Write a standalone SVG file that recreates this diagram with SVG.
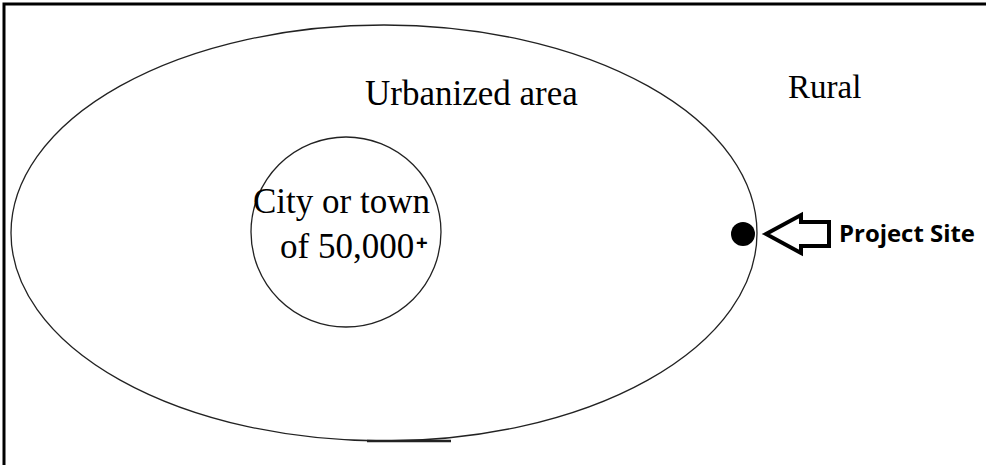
<svg xmlns="http://www.w3.org/2000/svg" width="986" height="465" viewBox="0 0 986 465">
<style>
.serif{font-family:"Liberation Serif","Times New Roman",serif;fill:#000}
.outline{fill:none;stroke:#222;stroke-width:1.3}
</style>
<rect width="986" height="465" fill="#fff"/>
<g id="frame">
<path d="M4,465 V4 H986" fill="none" stroke="#000" stroke-width="3"/>
</g>
<g id="urbanized">
<ellipse class="outline" cx="384" cy="233" rx="373" ry="208"/>
<line x1="367" y1="441" x2="451" y2="441" stroke="#222" stroke-width="2.5"/>
<line x1="452" y1="440.5" x2="458" y2="440.5" stroke="#fff" stroke-width="2.5"/>
<text class="serif" x="365" y="105" font-size="35">Urbanized area</text>
</g>
<g id="rural">
<text class="serif" x="788" y="98" font-size="33">Rural</text>
</g>
<g id="city">
<circle class="outline" cx="346" cy="232" r="95"/>
<text class="serif" x="253" y="213" font-size="35">City or town</text>
<text class="serif" x="280" y="258" font-size="35">of 50,000</text>
<text x="416" y="250" font-size="20" font-weight="bold" font-family="Liberation Sans,Arial,sans-serif">+</text>
</g>
<g id="project-site">
<circle cx="743" cy="234" r="12" fill="#000"/>
<text x="839" y="242" font-size="23" font-weight="bold" font-family="Open Sans,Liberation Sans,sans-serif" fill="#000" textLength="136" lengthAdjust="spacingAndGlyphs">Project Site</text>
</g>
<g id="connectors">
<path d="M766,234 L801,215 L801,222 L829,222 L829,246 L801,246 L801,253 Z" fill="#fff" stroke="#000" stroke-width="4" stroke-linejoin="miter"/>
</g>
</svg>
